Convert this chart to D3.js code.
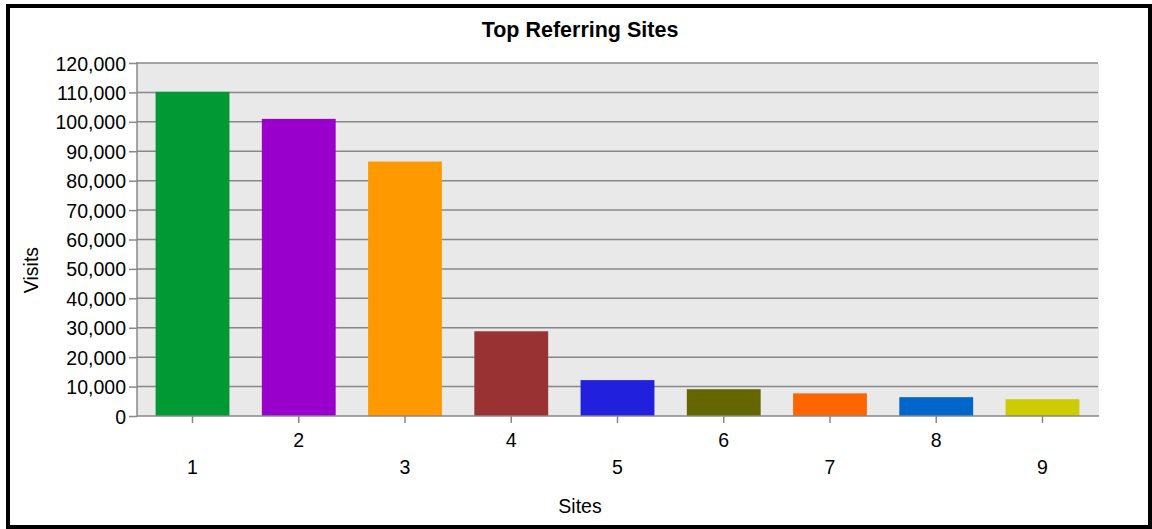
<!DOCTYPE html>
<html>
<head>
<meta charset="utf-8">
<script src="https://d3js.org/d3.v7.min.js"></script>
<style>
  html, body { margin: 0; padding: 0; background: #fff; }
  svg text { font-family: "Liberation Sans", Arial, sans-serif; fill: #000; }
</style>
</head>
<body>
<svg id="chart" width="1152" height="529"></svg>
<script>
// Referral visits per site
const sites = ["1", "2", "3", "4", "5", "6", "7", "8", "9"];
const visits = [110200, 101000, 86500, 28800, 12200, 9100, 7700, 6400, 5700];
const barColors = ["#009933", "#9900cc", "#ff9900", "#993333", "#2020dd",
                   "#666600", "#ff6600", "#0066cc", "#cccc00"];
const yTicks = [0, 10000, 20000, 30000, 40000, 50000, 60000,
                70000, 80000, 90000, 100000, 110000, 120000];

const svg = d3.select("#chart");
const plot = { left: 137, right: 1098, top: 63, bottom: 416 };
const gridColor = "#888888";

// frame around the whole chart
svg.append("rect")
  .attr("x", 8).attr("y", 6)
  .attr("width", 1142).attr("height", 521)
  .attr("fill", "#fff")
  .attr("stroke", "#000").attr("stroke-width", 4);

const x = d3.scaleBand()
  .domain(sites)
  .range([plot.left, plot.right])
  .paddingInner(0.305)
  .paddingOuter(0.175);

const y = d3.scaleLinear()
  .domain([0, 120000])
  .range([plot.bottom, plot.top]);

// plot background
svg.append("rect")
  .attr("x", plot.left).attr("y", plot.top)
  .attr("width", plot.right - plot.left + 1)
  .attr("height", plot.bottom - plot.top)
  .attr("fill", "#e9e9e9");

// horizontal gridlines
svg.append("g")
  .selectAll("line")
  .data(yTicks.filter(d => d > 0))
  .join("line")
  .attr("x1", plot.left).attr("x2", plot.right)
  .attr("y1", d => y(d)).attr("y2", d => y(d))
  .attr("stroke", gridColor).attr("stroke-width", 1.5);

// bars
svg.append("g")
  .selectAll("rect")
  .data(sites)
  .join("rect")
  .attr("x", d => x(d))
  .attr("y", (d, i) => y(visits[i]))
  .attr("width", x.bandwidth())
  .attr("height", (d, i) => y(0) - y(visits[i]))
  .attr("fill", (d, i) => barColors[i]);

// y axis
const yAxis = d3.axisLeft(y)
  .tickValues(yTicks)
  .tickSize(8)
  .tickPadding(3)
  .tickFormat(d3.format(","));
const gy = svg.append("g")
  .attr("transform", `translate(${plot.left},0)`)
  .call(yAxis);
gy.select(".domain").attr("stroke", gridColor).attr("stroke-width", 1.5)
  .attr("d", `M0,${plot.top - 1}V${plot.bottom + 1}`);
gy.selectAll(".tick line").attr("stroke", gridColor).attr("stroke-width", 1.5);
gy.selectAll(".tick text")
  .attr("font-size", 19.5)
  .attr("dy", "0.36em")
  .attr("fill", "#000");

// x axis with staggered labels
const xAxis = d3.axisBottom(x).tickSize(7).tickSizeOuter(0);
const gx = svg.append("g")
  .attr("transform", `translate(0,${plot.bottom})`)
  .call(xAxis);
gx.select(".domain").attr("stroke", gridColor).attr("stroke-width", 1.5)
  .attr("d", `M${plot.left},0H${plot.right + 1}`);
gx.selectAll(".tick line").attr("stroke", gridColor).attr("stroke-width", 1.5);
gx.selectAll(".tick text")
  .attr("font-size", 19.5)
  .attr("dy", null)
  .attr("y", (d, i) => i % 2 === 0 ? 58 : 31)
  .attr("fill", "#000");

// titles
svg.append("text")
  .attr("x", 580).attr("y", 37)
  .attr("text-anchor", "middle")
  .attr("font-size", 21.5)
  .attr("font-weight", "bold")
  .text("Top Referring Sites");

svg.append("text")
  .attr("x", 580).attr("y", 513)
  .attr("text-anchor", "middle")
  .attr("font-size", 19.5)
  .text("Sites");

svg.append("text")
  .attr("transform", "translate(38,270) rotate(-90)")
  .attr("text-anchor", "middle")
  .attr("font-size", 19.5)
  .text("Visits");
</script>
</body>
</html>
